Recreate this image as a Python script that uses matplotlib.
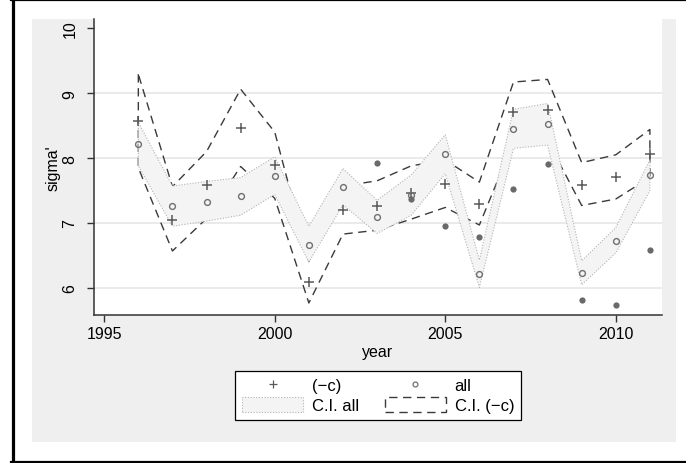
import numpy as np
import matplotlib
matplotlib.use("Agg")
import matplotlib.pyplot as plt
from matplotlib.lines import Line2D
from matplotlib.patches import Rectangle, Patch

plt.rcParams['font.family'] = ['Liberation Sans', 'DejaVu Sans']

# data
years = np.arange(1996, 2012)

sigma_c = [8.57, 7.05, 7.59, 8.47, 7.89, 6.09, 7.20, 7.27,
           7.47, 7.60, 7.30, 8.71, 8.74, 7.59, 7.71, 8.07]
ci_c_hi = [9.29, 7.56, 8.10, 9.06, 8.40, 6.41, 7.57, 7.65,
           7.88, 7.97, 7.63, 9.17, 9.21, 7.93, 8.05, 8.44]
ci_c_lo = [7.85, 6.57, 7.07, 7.87, 7.38, 5.77, 6.83, 6.89,
           7.06, 7.24, 6.97, 8.25, 8.27, 7.27, 7.37, 7.70]

sigma_all = [8.215, 7.26, 7.33, 7.41, 7.73, 6.66, 7.56, 7.09,
             7.43, 8.07, 6.21, 8.44, 8.52, 6.23, 6.73, 7.74]
ci_all_hi = [8.55, 7.57, 7.64, 7.70, 8.02, 6.95, 7.84, 7.35,
             7.74, 8.36, 6.43, 8.75, 8.84, 6.42, 6.93, 7.97]
ci_all_lo = [7.88, 6.95, 7.03, 7.12, 7.44, 6.40, 7.28, 6.84,
             7.12, 7.76, 6.01, 8.15, 8.20, 6.05, 6.54, 7.50]

dot_years = np.arange(2003, 2012)
dot_vals = [7.92, 7.37, 6.95, 6.78, 7.53, 7.91, 5.81, 5.74, 6.58]

ytick_vals = [6, 7, 8, 9, 10]
xtick_vals = [1995, 2000, 2005, 2010]

W, H = 686, 464
fig = plt.figure(figsize=(W / 100., H / 100.), dpi=100)
fig.patch.set_facecolor('white')

# grey graph region
fig.add_artist(Rectangle((32. / W, 1 - 443. / H), (676. - 32.) / W, (443. - 20.) / H,
                         transform=fig.transFigure, facecolor='#efefef',
                         edgecolor='none', zorder=0))

# outer black frame (left, top, bottom)
fig.add_artist(Line2D([12.5 / W, 12.5 / W], [0, 1], transform=fig.transFigure,
                      color='black', lw=2.3))
fig.add_artist(Line2D([11. / W, 1], [1 - 0.8 / H, 1 - 0.8 / H], transform=fig.transFigure,
                      color='black', lw=1.6))
fig.add_artist(Line2D([11. / W, 1], [1.5 / H, 1.5 / H], transform=fig.transFigure,
                      color='black', lw=2.3))

ax = fig.add_axes([94. / W, 1 - 316. / H, (662. - 94.) / W, (316. - 20.) / H])
ax.set_facecolor('white')

for v in [6, 7, 8, 9]:
    ax.axhline(v, color='#e6e6e6', lw=1.2, zorder=1)

# C.I. (-c): dashed outline only
ax.fill_between(years, ci_c_lo, ci_c_hi, facecolor='none', edgecolor='#3a3a3a',
                linestyle=(0, (6, 4)), lw=1.0, zorder=2)
# C.I. all: light filled band, dotted outline
ax.fill_between(years, ci_all_lo, ci_all_hi, facecolor='#f4f4f4', edgecolor='#b4b4b4',
                linestyle=(0, (1, 1.5)), lw=0.8, zorder=3)

ax.plot(years, sigma_c, '+', color='#5a5a5a', ms=7, mew=1.1, zorder=4)
ax.plot(years, sigma_all, 'o', mfc='none', mec='#707070', ms=4.2, mew=1.0, zorder=4)
ax.plot(dot_years, dot_vals, 'o', color='#6a6a6a', ms=4.5, mew=0, zorder=4)

ax.set_xlim(1994.70, 2011.355)
ax.set_ylim(5.585, 10.14)
ax.set_xticks(xtick_vals)
ax.set_yticks(ytick_vals)
ax.tick_params(axis='both', direction='out', length=5, width=1.0, color='#333333',
               labelsize=11.5, labelcolor='black')
ax.tick_params(axis='x', pad=3)
ax.tick_params(axis='y', pad=7)
for lab in ax.get_yticklabels():
    lab.set_rotation(90)
    lab.set_va('center')

for s in ['top', 'right']:
    ax.spines[s].set_visible(False)
for s in ['left', 'bottom']:
    ax.spines[s].set_color('#333333')
    ax.spines[s].set_linewidth(1.1)

ax.set_xlabel('year', fontsize=11.5, labelpad=2)
ax.set_ylabel("sigma'", fontsize=11.5)
ax.yaxis.set_label_coords(-0.058, 0.5)

handles = [
    Line2D([], [], marker='+', ls='none', color='#5a5a5a', ms=6, mew=0.9),
    Patch(facecolor='#f4f4f4', edgecolor='#b4b4b4', linestyle=(0, (1, 1.5)), lw=0.8),
    Line2D([], [], marker='o', ls='none', mfc='none', mec='#707070', ms=3.5, mew=0.9),
    Patch(facecolor='white', edgecolor='#3a3a3a', linestyle=(0, (6, 4)), lw=1.0),
]
labels = [u'(\u2212c)', 'C.I. all', 'all', u'C.I. (\u2212c)']
leg = fig.legend(handles, labels, loc='center', bbox_to_anchor=(378. / W, 1 - 396. / H),
                 ncol=2, fontsize=12, frameon=True, fancybox=False,
                 edgecolor='black', facecolor='white', framealpha=1,
                 handlelength=3.7, handleheight=1.0, handletextpad=0.5,
                 columnspacing=1.55, borderpad=0.4, labelspacing=0.2)
leg.get_frame().set_linewidth(0.9)

fig.savefig('out.png', dpi=100)
